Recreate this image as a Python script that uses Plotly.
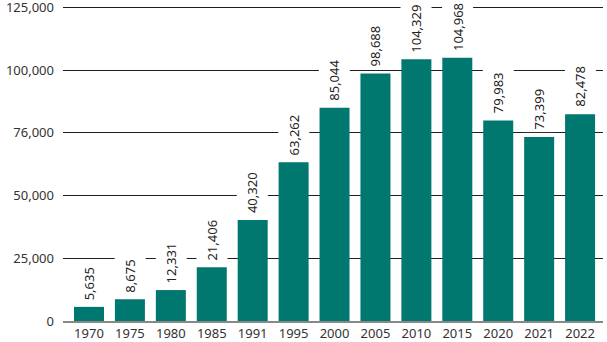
import plotly.graph_objects as go

years = ["1970", "1975", "1980", "1985", "1991", "1995", "2000", "2005", "2010", "2015", "2020", "2021", "2022"]
values = [5635, 8675, 12331, 21406, 40320, 63262, 85044, 98688, 104329, 104968, 79983, 73399, 82478]
y_tickvals = [0, 25000, 50000, 75000, 100000, 125000]
y_ticktext = ["0", "25,000", "50,000", "76,000", "100,000", "125,000"]

FONT = "Noto Sans"
fig = go.Figure(go.Bar(x=years, y=values, marker_color="#00776f", marker_line_width=0))

for i, v in enumerate(values):
    fig.add_annotation(x=i, y=v, xref="x", yref="y", text=f"{v:,}", textangle=-90,
                       showarrow=False, yanchor="bottom", xanchor="center", yshift=4,
                       bgcolor="white", borderpad=2, height=26,
                       font=dict(family=FONT, size=13, color="#222"))

fig.update_layout(
    width=607, height=342,
    margin=dict(l=63, r=4, t=6, b=21),
    plot_bgcolor="white", paper_bgcolor="white",
    bargap=0.267, showlegend=False,
    font=dict(family=FONT, size=13, color="#333"),
    xaxis=dict(type="category", range=[-0.635, 12.56], automargin=False,
               showgrid=False, ticks="", tickfont=dict(size=13, color="#333"),
               showline=True, linecolor="#888", linewidth=1.5),
    yaxis=dict(range=[0, 125600], tickvals=y_tickvals, ticktext=y_ticktext, automargin=False,
               showgrid=True, gridcolor="#1e1e1e", gridwidth=1, zeroline=False,
               showline=False, ticks="", ticklabelstandoff=8, ticklabeloverflow="allow",
               tickfont=dict(size=13, color="#333")),
)
fig.write_html("out.html")
